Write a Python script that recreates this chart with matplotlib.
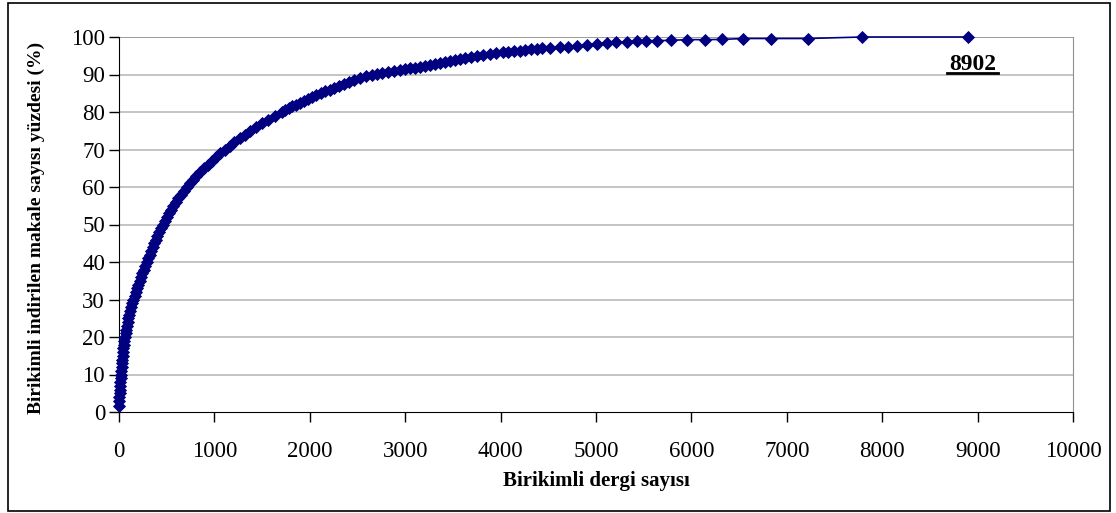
import numpy as np
import matplotlib.pyplot as plt
from matplotlib.patches import Rectangle

# Cumulative journal count (x) and cumulative % of downloaded articles (y)
dergi = [0, 2, 4, 6, 8, 11, 13, 16, 20, 23, 27, 30, 34, 38, 42, 46, 51, 57, 63, 70,
         77, 84, 91, 98, 105, 114, 124, 137, 150, 163, 176, 189, 202, 215, 229, 243, 258, 274, 290,
         305, 320, 336, 352, 368, 385, 402, 420, 439, 458, 478, 499, 521, 544, 568, 593, 620, 648,
         677, 709, 741, 775, 811, 849, 889, 930, 972, 1016, 1062, 1111, 1159, 1210, 1264, 1320,
         1378, 1438, 1500, 1565, 1633, 1705, 1742, 1779, 1818, 1857, 1898, 1939, 1982, 2025, 2070,
         2115, 2162, 2209, 2258, 2307, 2359, 2411, 2466, 2523, 2584, 2649, 2700, 2760, 2820, 2880,
         2945, 3000, 3050, 3100, 3155, 3210, 3260, 3310, 3365, 3420, 3470, 3520, 3575, 3630, 3690,
         3750, 3820, 3890, 3950, 4020, 4080, 4140, 4200, 4260, 4320, 4380, 4430, 4518, 4623, 4707,
         4800, 4905, 5010, 5115, 5210, 5325, 5430, 5525, 5640, 5786, 5954, 6142, 6321, 6541, 6832,
         7222, 7789, 8902]
yuzde = [1.5, 3, 4, 5, 6, 7, 8, 9, 10, 11, 12, 13, 14, 15, 16, 17, 18, 19, 20, 21,
         22, 23, 24, 25, 26, 27, 28, 29, 30, 31, 32, 33, 34, 35, 36, 37, 38, 39, 40,
         41, 42, 43, 44, 45, 46, 47, 48, 49, 50, 51, 52, 53, 54, 55, 56, 57, 58,
         59, 60, 61, 62, 63, 64, 65, 66, 67, 68, 69, 70, 71, 72, 73, 74,
         75, 76, 77, 78, 79, 80, 80.5, 81, 81.5, 82, 82.5, 83, 83.5, 84, 84.5,
         85, 85.5, 86, 86.5, 87, 87.5, 88, 88.5, 89, 89.5, 90, 90.2, 90.45, 90.7, 90.95,
         91.2, 91.4, 91.65, 91.85, 92.1, 92.35, 92.6, 92.9, 93.15, 93.4, 93.65, 93.95, 94.2, 94.4, 94.65,
         94.9, 95.2, 95.5, 95.7, 95.95, 96.1, 96.25, 96.4, 96.55, 96.7, 96.85, 97.0, 97.2, 97.3, 97.4,
         97.6, 97.9, 98.1, 98.4, 98.55, 98.75, 98.9, 99.0, 99.05, 99.1, 99.3, 99.3, 99.35, 99.6, 99.6,
         99.6, 100, 100]

x_ticks = [0, 1000, 2000, 3000, 4000, 5000, 6000, 7000, 8000, 9000, 10000]
y_ticks = [0, 10, 20, 30, 40, 50, 60, 70, 80, 90, 100]

plt.rcParams['font.family'] = ['Liberation Serif', 'DejaVu Serif']

fig = plt.figure(figsize=(11.16, 5.13), dpi=100)
# outer chart frame
fig.patches.append(Rectangle((8 / 1116, 2 / 513), 1102 / 1116, 508 / 513, transform=fig.transFigure,
                             fill=False, edgecolor='black', linewidth=1.2))

ax = fig.add_axes([119 / 1116, 101 / 513, 954 / 1116, 375 / 513])

ax.plot(np.array(dergi), np.array(yuzde), color='#000080', linewidth=1.2,
        marker='D', markersize=5.8, markerfacecolor='#000080', markeredgecolor='#000080',
        markeredgewidth=0.6, zorder=3, clip_on=False)

ax.set_xlim(0, 10000)
ax.set_ylim(0, 100)
ax.set_xticks(x_ticks)
ax.set_yticks(y_ticks)
ax.tick_params(axis='x', direction='out', length=7, width=1, pad=14, labelsize=16.5)
ax.tick_params(axis='y', direction='out', length=7, width=1, pad=3, labelsize=16.5)

for v in y_ticks[1:]:
    ax.axhline(v, color='#808080' if v == 100 else '#b4b4b4', linewidth=1.1, zorder=1)

ax.spines['left'].set_color('black')
ax.spines['bottom'].set_color('black')
ax.spines['top'].set_visible(False)
ax.spines['right'].set_color('#909090')

ax.set_xlabel('Birikimli dergi sayısı', fontsize=15, fontweight='bold', va='center')
ax.xaxis.set_label_coords(0.5, -0.184)
ax.set_ylabel('Birikimli indirilen makale sayısı yüzdesi (%)', fontsize=14, fontweight='bold', va='center')
ax.yaxis.set_label_coords(-0.087, 0.49)

ax.text(8946, 91.2, '8902', ha='center', va='baseline', fontsize=17, fontweight='bold')
# underline under the label
ax.plot([8676, 9217], [90.3, 90.3], color='black', linewidth=2, zorder=4)

fig.savefig('out.png', dpi=100)
